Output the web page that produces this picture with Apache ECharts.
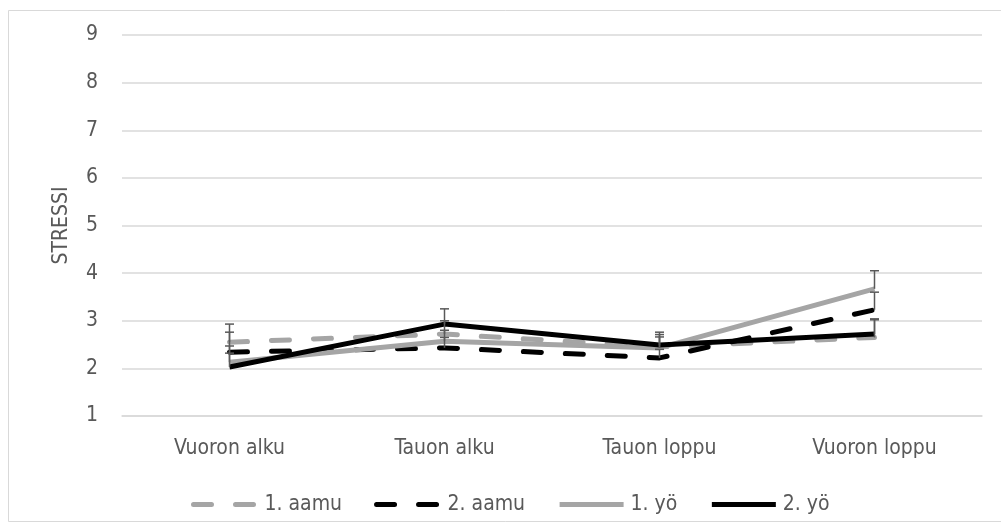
<!DOCTYPE html>
<html>
<head>
<meta charset="utf-8">
<script src="https://cdn.jsdelivr.net/npm/echarts@6/dist/echarts.min.js"></script>
<style>
html,body{margin:0;padding:0;background:#fff;}
#c{width:1001px;height:524px;}
</style>
</head>
<body>
<div id="c"></div>
<script>
const categories = ['Vuoron alku', 'Tauon alku', 'Tauon loppu', 'Vuoron loppu'];
const seriesNames = ['1. aamu', '2. aamu', '1. yö', '2. yö'];
const aamu1 = [2.55, 2.72, 2.45, 2.65];
const aamu2 = [2.34, 2.43, 2.22, 3.23];
const yo1 = [2.13, 2.57, 2.43, 3.67];
const yo2 = [2.03, 2.93, 2.49, 2.72];
const aamu1ErrTop = [2.93, 3.00, 2.66, 3.04];
const aamu2ErrTop = [2.76, 2.65, 2.40, 3.60];
const yo1ErrTop = [2.47, 2.80, 2.71, 4.05];
const yo2ErrTop = [2.32, 3.25, 2.76, 3.02];
const yTicks = [1, 2, 3, 4, 5, 6, 7, 8, 9];

const FONT = "'DejaVu Sans Condensed', 'Liberation Sans Narrow', sans-serif";
const TXT = '#595959';
const FS = 21;

const values = [aamu1, aamu2, yo1, yo2];
const errTops = [aamu1ErrTop, aamu2ErrTop, yo1ErrTop, yo2ErrTop];
const colors = ['#A5A5A5', '#000000', '#A5A5A5', '#000000'];
const dashed = [true, true, false, false];

const errData = [];
values.forEach((arr, s) => arr.forEach((v, i) => errData.push([i, v, errTops[s][i]])));

const chart = echarts.init(document.getElementById('c'), null, {renderer: 'canvas'});
const lineSeries = seriesNames.map((n, s) => ({
  name: n,
  type: 'line',
  data: values[s],
  symbol: 'none',
  z: 2 + s,
  lineStyle: {
    color: colors[s],
    width: 5,
    type: dashed[s] ? [18, 24] : 'solid',
    cap: dashed[s] ? 'round' : 'butt',
    join: 'round'
  },
  itemStyle: {color: colors[s]},
  emphasis: {disabled: true}
}));

chart.setOption({
  animation: false,
  backgroundColor: '#fff',
  textStyle: {fontFamily: FONT},
  graphic: [{
    type: 'rect',
    shape: {x: 8.5, y: 10.5, width: 995, height: 511},
    style: {fill: 'none', stroke: '#d9d9d9', lineWidth: 1},
    silent: true
  }],
  grid: {left: 122, right: 19, top: 35, bottom: 108},
  legend: {
    data: seriesNames.map((n, s) => ({
      name: n,
      itemStyle: {opacity: 0},
      lineStyle: {
        color: colors[s],
        width: 5,
        type: dashed[s] ? [18, 24] : 'solid',
        cap: dashed[s] ? 'round' : 'butt'
      }
    })),
    top: 489,
    left: 186,
    itemWidth: 64,
    itemHeight: 14,
    itemGap: 32,
    textStyle: {fontFamily: FONT, fontSize: FS, color: TXT, padding: [0, 0, 0, 2]}
  },
  xAxis: {
    type: 'category',
    data: categories,
    boundaryGap: true,
    axisLine: {show: true, lineStyle: {color: '#d9d9d9', width: 1.5}},
    axisTick: {show: false},
    axisLabel: {fontFamily: FONT, fontSize: FS, color: TXT, margin: 22}
  },
  yAxis: {
    type: 'value',
    min: yTicks[0],
    max: yTicks[yTicks.length - 1],
    interval: 1,
    name: 'STRESSI',
    nameLocation: 'middle',
    nameGap: 50,
    nameRotate: 90,
    nameTextStyle: {fontFamily: FONT, fontSize: FS, color: TXT},
    axisLine: {show: false},
    axisTick: {show: false},
    splitLine: {lineStyle: {color: '#d9d9d9', width: 1.5}},
    axisLabel: {fontFamily: FONT, fontSize: FS, color: TXT, margin: 24}
  },
  series: lineSeries.concat([{
    type: 'custom',
    name: 'err',
    z: 10,
    silent: true,
    data: errData,
    renderItem: function (params, api) {
      const x = api.value(0);
      const p0 = api.coord([x, api.value(1)]);
      const p1 = api.coord([x, api.value(2)]);
      const hw = 4.5;
      const st = {stroke: '#595959', lineWidth: 1.5};
      return {
        type: 'group',
        children: [
          {type: 'line', shape: {x1: p0[0], y1: p0[1], x2: p1[0], y2: p1[1]}, style: st},
          {type: 'line', shape: {x1: p1[0] - hw, y1: p1[1], x2: p1[0] + hw, y2: p1[1]}, style: st}
        ]
      };
    }
  }])
});
</script>
</body>
</html>
